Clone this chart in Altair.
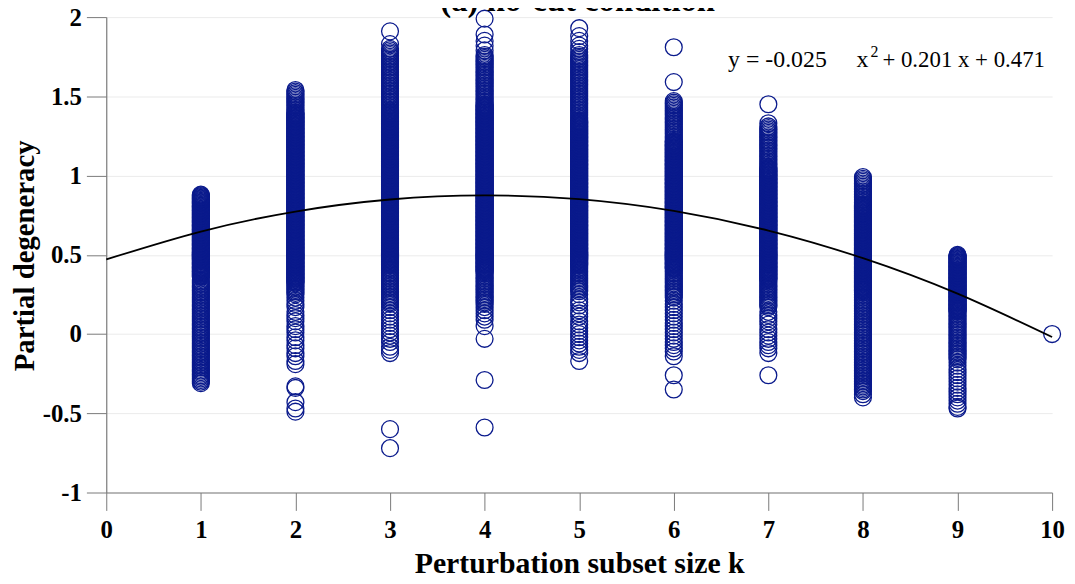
import altair as alt
import pandas as pd

# Partial degeneracy values (in hundredths) read from each column, k = 1..10
k1_vals = [88, 87, 86, 85, 84, 83, 82, 81, 80, 79, 78, 77, 76, 75, 74, 73, 72, 71, 70, 69,
           68, 67, 66, 65, 64, 63, 62, 61, 60, 59, 58, 57, 56, 55, 54, 53, 52, 51, 50, 49,
           48, 47, 46, 45, 44, 43, 42, 41, 40, 39, 38, 37, 36,
           34, 32, 29, 27, 25, 22, 20, 18, 15, 13, 11, 8, 6, 4, 1, -1, -3, -5, -8, -10,
           -12, -14, -16, -18, -20, -22, -24, -26, -28, -30, -31]
k1_mid = [87.5, 86.5, 85.5, 84.5, 83.5, 82.5, 81.5, 80.5, 79.5, 78.5, 77.5, 76.5, 75.5,
          74.5, 73.5, 72.5, 71.5, 70.5, 69.5, 68.5, 67.5, 66.5, 65.5, 64.5, 63.5, 62.5,
          61.5, 60.5, 59.5, 58.5, 57.5, 56.5, 55.5, 54.5, 53.5, 52.5, 51.5, 50.5, 49.5,
          48.5, 47.5, 46.5, 45.5, 44.5, 43.5, 42.5, 41.5, 40.5, 39.5, 38.5, 37.5, 36.5]
k1_extra = [33, 31, 30, 28, 26, 24, 23, 21, 19, 17, 16, 14, 12, 10, 9, 7, 5, 3, 2, 0,
            -2, -4, -6, -7, -9, -11, -13, -15, -17, -19, -21, -23, -25, -27, -29]

k2_vals = [154, 153, 151, 150, 148, 146, 145, 143, 141,
           140, 139, 138, 137, 136, 135, 134, 133, 132, 131, 130, 129, 128, 127, 126, 125,
           124, 123, 122, 121, 120, 119, 118, 117, 116, 115, 114, 113, 112, 111, 110, 109,
           108, 107, 106, 105, 104, 103, 102, 101, 100, 99, 98, 97, 96, 95, 94, 93, 92, 91,
           90, 89, 88, 87, 86, 85, 84, 83, 82, 81, 80, 79, 78, 77, 76, 75, 74, 73, 72, 71,
           70, 69, 68, 67, 66, 65, 64, 63, 62, 61, 60, 59, 58, 57, 56, 55, 54, 53, 52, 51,
           50, 49, 48, 47, 46, 45, 44, 43, 42, 41, 40, 39, 38, 37, 36, 35, 34, 33, 32,
           30, 28, 26, 23, 21, 19, 17, 14, 12, 10, 8, 5, 3, 1, -2, -4, -7, -9, -12, -14,
           -17, -19, -33, -34, -43, -47, -49]
k2_mid = [139.5, 138.5, 137.5, 136.5, 135.5, 134.5, 133.5, 132.5, 131.5, 130.5, 129.5,
          128.5, 127.5, 126.5, 125.5, 124.5, 123.5, 122.5, 121.5, 120.5, 119.5, 118.5,
          117.5, 116.5, 115.5, 114.5, 113.5, 112.5, 111.5, 110.5, 109.5, 108.5, 107.5,
          106.5, 105.5, 104.5, 103.5, 102.5, 101.5, 100.5, 99.5, 98.5, 97.5, 96.5, 95.5,
          94.5, 93.5, 92.5, 91.5, 90.5, 89.5, 88.5, 87.5, 86.5, 85.5, 84.5, 83.5, 82.5,
          81.5, 80.5, 79.5, 78.5, 77.5, 76.5, 75.5, 74.5, 73.5, 72.5, 71.5, 70.5, 69.5,
          68.5, 67.5, 66.5, 65.5, 64.5, 63.5, 62.5, 61.5, 60.5, 59.5, 58.5, 57.5, 56.5,
          55.5, 54.5, 53.5, 52.5, 51.5, 50.5, 49.5, 48.5, 47.5, 46.5, 45.5, 44.5, 43.5,
          42.5, 41.5, 40.5, 39.5, 38.5, 37.5, 36.5, 35.5, 34.5, 33.5, 32.5]
k2_extra = [152, 149, 147, 144, 142, 31, 29, 27, 25]

k3_vals = [191, 183, 180, 178, 176, 174, 172, 170, 168, 166, 164, 162, 160, 158, 156, 154,
           152, 150, 148, 146, 144, 142,
           141, 140, 139, 138, 137, 136, 135, 134, 133, 132, 131, 130, 129, 128, 127, 126,
           125, 124, 123, 122, 121, 120, 119, 118, 117, 116, 115, 114, 113, 112, 111, 110,
           109, 108, 107, 106, 105, 104, 103, 102, 101, 100, 99, 98, 97, 96, 95, 94, 93, 92,
           91, 90, 89, 88, 87, 86, 85, 84, 83, 82, 81, 80, 79, 78, 77, 76, 75, 74, 73, 72,
           71, 70, 69, 68, 67, 66, 65, 64, 63, 62, 61, 60, 59, 58, 57, 56, 55, 54, 53, 52,
           51, 50, 49, 48, 47, 46, 45, 44, 43,
           41, 39, 37, 35, 33, 31, 29, 27, 25, 23, 21, 19, 17, 15, 13, 11, 9, 7, 5, 3, 1,
           -1, -3, -5, -8, -10, -12, -60, -72]
k3_mid = [140.5, 139.5, 138.5, 137.5, 136.5, 135.5, 134.5, 133.5, 132.5, 131.5, 130.5,
          129.5, 128.5, 127.5, 126.5, 125.5, 124.5, 123.5, 122.5, 121.5, 120.5, 119.5,
          118.5, 117.5, 116.5, 115.5, 114.5, 113.5, 112.5, 111.5, 110.5, 109.5, 108.5,
          107.5, 106.5, 105.5, 104.5, 103.5, 102.5, 101.5, 100.5, 99.5, 98.5, 97.5, 96.5,
          95.5, 94.5, 93.5, 92.5, 91.5, 90.5, 89.5, 88.5, 87.5, 86.5, 85.5, 84.5, 83.5,
          82.5, 81.5, 80.5, 79.5, 78.5, 77.5, 76.5, 75.5, 74.5, 73.5, 72.5, 71.5, 70.5,
          69.5, 68.5, 67.5, 66.5, 65.5, 64.5, 63.5, 62.5, 61.5, 60.5, 59.5, 58.5, 57.5,
          56.5, 55.5, 54.5, 53.5, 52.5, 51.5, 50.5, 49.5, 48.5, 47.5, 46.5, 45.5, 44.5,
          43.5]
k3_extra = [179, 177, 175, 173, 171, 169, 167, 165, 163, 161, 159, 157, 155, 153, 151,
            149, 147, 145, 143, 42, 40, 38, 36, 34, 32, 30, 28, 26, 24, 22, 20]

k4_vals = [199, 189, 185, 182, 179, 176, 174, 172, 170, 168, 166, 164, 162, 160, 158, 156,
           154, 152, 150, 148, 146,
           145, 144, 143, 142, 141, 140, 139, 138, 137, 136, 135, 134, 133, 132, 131, 130,
           129, 128, 127, 126, 125, 124, 123, 122, 121, 120, 119, 118, 117, 116, 115, 114,
           113, 112, 111, 110, 109, 108, 107, 106, 105, 104, 103, 102, 101, 100, 99, 98, 97,
           96, 95, 94, 93, 92, 91, 90, 89, 88, 87, 86, 85, 84, 83, 82, 81, 80, 79, 78, 77,
           76, 75, 74, 73, 72, 71, 70, 69, 68, 67, 66, 65, 64, 63, 62, 61, 60, 59, 58, 57,
           56, 55, 54, 53, 52, 51, 50, 49, 48, 47, 46, 45, 44, 43, 42, 41, 40, 39,
           37, 35, 33, 31, 29, 27, 25, 23, 21, 19, 17, 15, 13, 11, 9, 5, -3, -29, -59]
k4_mid = [144.5, 143.5, 142.5, 141.5, 140.5, 139.5, 138.5, 137.5, 136.5, 135.5, 134.5,
          133.5, 132.5, 131.5, 130.5, 129.5, 128.5, 127.5, 126.5, 125.5, 124.5, 123.5,
          122.5, 121.5, 120.5, 119.5, 118.5, 117.5, 116.5, 115.5, 114.5, 113.5, 112.5,
          111.5, 110.5, 109.5, 108.5, 107.5, 106.5, 105.5, 104.5, 103.5, 102.5, 101.5,
          100.5, 99.5, 98.5, 97.5, 96.5, 95.5, 94.5, 93.5, 92.5, 91.5, 90.5, 89.5, 88.5,
          87.5, 86.5, 85.5, 84.5, 83.5, 82.5, 81.5, 80.5, 79.5, 78.5, 77.5, 76.5, 75.5,
          74.5, 73.5, 72.5, 71.5, 70.5, 69.5, 68.5, 67.5, 66.5, 65.5, 64.5, 63.5, 62.5,
          61.5, 60.5, 59.5, 58.5, 57.5, 56.5, 55.5, 54.5, 53.5, 52.5, 51.5, 50.5, 49.5,
          48.5, 47.5, 46.5, 45.5, 44.5, 43.5, 42.5, 41.5, 40.5, 39.5]
k4_extra = [175, 173, 171, 169, 167, 165, 163, 161, 159, 157, 155, 153, 151, 149, 147,
            38, 36, 34, 32, 30, 28, 26, 24, 22, 20]

k5_vals = [193, 188, 185, 182, 180, 178, 176, 174, 172, 170, 168, 166, 164, 162, 160, 158,
           156, 154, 152, 150, 148, 146, 144, 142, 140, 138, 136,
           135, 134, 133, 132, 131, 130, 129, 128, 127, 126, 125, 124, 123, 122, 121, 120,
           119, 118, 117, 116, 115, 114, 113, 112, 111, 110, 109, 108, 107, 106, 105, 104,
           103, 102, 101, 100, 99, 98, 97, 96, 95, 94, 93, 92, 91, 90, 89, 88, 87, 86, 85,
           84, 83, 82, 81, 80, 79, 78, 77, 76, 75, 74, 73, 72, 71, 70, 69, 68, 67, 66, 65,
           64, 63, 62, 61, 60, 59, 58, 57, 56, 55, 54, 53, 52, 51, 50, 49, 48, 47, 46, 45,
           44, 43,
           41, 39, 37, 35, 33, 31, 29, 27, 25, 22, 20, 18, 15, 13, 11, 8, 6, 4, 2, 0, -2,
           -4, -6, -8, -10, -12, -17]
k5_mid = [134.5, 133.5, 132.5, 131.5, 130.5, 129.5, 128.5, 127.5, 126.5, 125.5, 124.5,
          123.5, 122.5, 121.5, 120.5, 119.5, 118.5, 117.5, 116.5, 115.5, 114.5, 113.5,
          112.5, 111.5, 110.5, 109.5, 108.5, 107.5, 106.5, 105.5, 104.5, 103.5, 102.5,
          101.5, 100.5, 99.5, 98.5, 97.5, 96.5, 95.5, 94.5, 93.5, 92.5, 91.5, 90.5, 89.5,
          88.5, 87.5, 86.5, 85.5, 84.5, 83.5, 82.5, 81.5, 80.5, 79.5, 78.5, 77.5, 76.5,
          75.5, 74.5, 73.5, 72.5, 71.5, 70.5, 69.5, 68.5, 67.5, 66.5, 65.5, 64.5, 63.5,
          62.5, 61.5, 60.5, 59.5, 58.5, 57.5, 56.5, 55.5, 54.5, 53.5, 52.5, 51.5, 50.5,
          49.5, 48.5, 47.5, 46.5, 45.5, 44.5, 43.5]
k5_extra = [175, 173, 171, 169, 167, 165, 163, 161, 159, 157, 155, 153, 151, 149, 147,
            145, 143, 141, 139, 137, 42, 40, 38, 36, 34, 32, 30, 28]

k6_vals = [181, 159, 147, 145, 143, 141, 139, 137, 135, 133, 131, 129, 127, 125, 123,
           122, 121, 120, 119, 118, 117, 116, 115, 114, 113, 112, 111, 110, 109, 108, 107,
           106, 105, 104, 103, 102, 101, 100, 99, 98, 97, 96, 95, 94, 93, 92, 91, 90, 89,
           88, 87, 86, 85, 84, 83, 82, 81, 80, 79, 78, 77, 76, 75, 74, 73, 72, 71, 70, 69,
           68, 67, 66, 65, 64, 63, 62, 61, 60, 59, 58, 57, 56, 55, 54, 53, 52, 51, 50, 49,
           48, 47, 46, 45, 44, 43, 42, 41,
           39, 37, 35, 33, 31, 29, 27, 25, 23, 21, 19, 17, 15, 13, 11, 9, 7, 5, 3, 1, -1,
           -3, -5, -7, -9, -11, -14, -26, -35]
k6_mid = [121.5, 120.5, 119.5, 118.5, 117.5, 116.5, 115.5, 114.5, 113.5, 112.5, 111.5,
          110.5, 109.5, 108.5, 107.5, 106.5, 105.5, 104.5, 103.5, 102.5, 101.5, 100.5,
          99.5, 98.5, 97.5, 96.5, 95.5, 94.5, 93.5, 92.5, 91.5, 90.5, 89.5, 88.5, 87.5,
          86.5, 85.5, 84.5, 83.5, 82.5, 81.5, 80.5, 79.5, 78.5, 77.5, 76.5, 75.5, 74.5,
          73.5, 72.5, 71.5, 70.5, 69.5, 68.5, 67.5, 66.5, 65.5, 64.5, 63.5, 62.5, 61.5,
          60.5, 59.5, 58.5, 57.5, 56.5, 55.5, 54.5, 53.5, 52.5, 51.5, 50.5, 49.5, 48.5,
          47.5, 46.5, 45.5, 44.5, 43.5, 42.5, 41.5]
k6_extra = [146, 144, 142, 140, 138, 136, 134, 132, 130, 128, 126, 124,
            40, 38, 36, 34, 32, 30, 28, 26, 24]

k7_vals = [145, 133, 131, 128, 126, 124, 122, 120, 118, 116, 114, 112, 110, 108, 106,
           105, 104, 103, 102, 101, 100, 99, 98, 97, 96, 95, 94, 93, 92, 91, 90, 89, 88,
           87, 86, 85, 84, 83, 82, 81, 80, 79, 78, 77, 76, 75, 74, 73, 72, 71, 70, 69, 68,
           67, 66, 65, 64, 63, 62, 61, 60, 59, 58, 57, 56, 55, 54, 53, 52, 51, 50, 49, 48,
           47, 46, 45, 44, 43, 42, 41, 40, 39, 38, 37, 36, 35, 34,
           32, 30, 28, 25, 23, 21, 19, 17, 14, 12, 10, 8, 6, 3, 1, -1, -3, -5, -7, -9, -12,
           -26]
k7_mid = [104.5, 103.5, 102.5, 101.5, 100.5, 99.5, 98.5, 97.5, 96.5, 95.5, 94.5, 93.5,
          92.5, 91.5, 90.5, 89.5, 88.5, 87.5, 86.5, 85.5, 84.5, 83.5, 82.5, 81.5, 80.5,
          79.5, 78.5, 77.5, 76.5, 75.5, 74.5, 73.5, 72.5, 71.5, 70.5, 69.5, 68.5, 67.5,
          66.5, 65.5, 64.5, 63.5, 62.5, 61.5, 60.5, 59.5, 58.5, 57.5, 56.5, 55.5, 54.5,
          53.5, 52.5, 51.5, 50.5, 49.5, 48.5, 47.5, 46.5, 45.5, 44.5, 43.5, 42.5, 41.5,
          40.5, 39.5, 38.5, 37.5, 36.5, 35.5, 34.5]
k7_extra = [130, 129, 127, 125, 123, 121, 119, 117, 115, 113, 111, 109, 107,
            33, 31, 29, 27, 26, 24, 22, 20, 18]

k8_vals = [99, 97, 95, 93, 91, 89, 87, 85, 83,
           82, 81, 80, 79, 78, 77, 76, 75, 74, 73, 72, 71, 70, 69, 68, 67, 66, 65, 64, 63,
           62, 61, 60, 59, 58, 57, 56, 55, 54, 53, 52, 51, 50, 49, 48, 47, 46, 45, 44, 43,
           42, 41, 40, 39, 38, 37, 36, 35, 34, 33, 32, 31, 30, 29, 28, 27,
           25, 23, 21, 19, 17, 15, 13, 11, 9, 7, 5, 3, 1, -1, -3, -5, -7, -9, -11, -13,
           -15, -17, -19, -21, -23, -25, -27, -29, -31, -33, -35, -38, -40]
k8_mid = [81.5, 80.5, 79.5, 78.5, 77.5, 76.5, 75.5, 74.5, 73.5, 72.5, 71.5, 70.5, 69.5,
          68.5, 67.5, 66.5, 65.5, 64.5, 63.5, 62.5, 61.5, 60.5, 59.5, 58.5, 57.5, 56.5,
          55.5, 54.5, 53.5, 52.5, 51.5, 50.5, 49.5, 48.5, 47.5, 46.5, 45.5, 44.5, 43.5,
          42.5, 41.5, 40.5, 39.5, 38.5, 37.5, 36.5, 35.5, 34.5, 33.5, 32.5, 31.5, 30.5,
          29.5, 28.5, 27.5]
k8_extra = [98, 96, 94, 92, 90, 88, 86, 84,
            26, 24, 22, 20, 18, 16, 14, 12, 10, 8, 6, 4, 2, 0, -2, -4, -6, -8, -10, -12,
            -14, -16, -18, -20, -22, -24, -26, -28, -30, -32, -34, -36]

k9_vals = [50, 49, 48, 47, 46, 45, 44, 43, 42, 41, 40, 39, 38, 37, 36, 35, 34, 33, 32,
           31, 30, 29, 28, 27, 26, 25, 24, 23, 22, 21, 20, 19, 18, 17, 16, 15, 14,
           12, 10, 8, 6, 4, 2, 0, -2, -4, -6, -8, -10, -12, -14, -16, -18, -20, -22, -24,
           -26, -28, -30, -32, -34, -36, -38, -40, -42, -44, -46, -47]
k9_mid = [49.5, 48.5, 47.5, 46.5, 45.5, 44.5, 43.5, 42.5, 41.5, 40.5, 39.5, 38.5, 37.5,
          36.5, 35.5, 34.5, 33.5, 32.5, 31.5, 30.5, 29.5, 28.5, 27.5, 26.5, 25.5, 24.5,
          23.5, 22.5, 21.5, 20.5, 19.5, 18.5, 17.5, 16.5, 15.5, 14.5]
k9_extra = [13, 11, 9, 7, 5, 3, 1, -1, -3, -5, -7, -9, -11, -13, -15]

k10_vals = [0]
k10_mid = []
k10_extra = []

columns = {1: k1_vals + k1_mid + k1_extra, 2: k2_vals + k2_mid + k2_extra,
           3: k3_vals + k3_mid + k3_extra, 4: k4_vals + k4_mid + k4_extra,
           5: k5_vals + k5_mid + k5_extra, 6: k6_vals + k6_mid + k6_extra,
           7: k7_vals + k7_mid + k7_extra, 8: k8_vals + k8_mid + k8_extra,
           9: k9_vals + k9_mid + k9_extra, 10: k10_vals + k10_mid + k10_extra}

# Fitted curve as drawn: y = -0.025 x^2 + 0.201 x + 0.471 (values read at integer k)
fit_k = [0, 1, 2, 3, 4, 5, 6, 7, 8, 9, 10]
fit_y = [0.471, 0.647, 0.773, 0.849, 0.875, 0.851, 0.777, 0.653, 0.479, 0.255, -0.019]

x_ticks = [0, 1, 2, 3, 4, 5, 6, 7, 8, 9, 10]
y_ticks = [-1, -0.5, 0, 0.5, 1, 1.5, 2]

rows = []
for k, vals in columns.items():
    for v in vals:
        rows.append({"k": k, "pd": v / 100.0})
df_pts = pd.DataFrame(rows)
df_fit = pd.DataFrame({"k": fit_k, "pd": fit_y})

SERIF = "Liberation Serif"

x_enc = alt.X("k:Q", scale=alt.Scale(domain=[0, 10], nice=False, zero=False),
              axis=alt.Axis(values=x_ticks, title="Perturbation subset size k",
                            grid=False, tickSize=18, labelPadding=7,
                            labelFlush=False, labelOverlap=False,
                            labelExpr="'' + datum.value",
                            titleFontSize=30, titleY=81, titleBaseline="alphabetic"))
y_enc = alt.Y("pd:Q", scale=alt.Scale(domain=[-1, 2], nice=False, zero=False),
              axis=alt.Axis(values=y_ticks, title="Partial degeneracy",
                            grid=True, tickSize=20, labelPadding=5,
                            labelOverlap=False, labelExpr="'' + datum.value",
                            titleFontSize=29, titleX=-73, titleY=240, titleAngle=270,
                            titleBaseline="alphabetic", titleAlign="center"))

points = alt.Chart(df_pts).mark_point(
    shape="circle", filled=False, size=289, strokeWidth=1.3, color="#0a1a8c", opacity=1
).encode(x=x_enc, y=y_enc)

curve = alt.Chart(df_fit).mark_line(
    color="black", strokeWidth=1.8, interpolate="natural"
).encode(x="k:Q", y="pd:Q")


def label(text, px, py, size, align="left", weight="normal"):
    return alt.Chart(pd.DataFrame({"t": [text]})).mark_text(
        font=SERIF, fontSize=size, fontWeight=weight, align=align,
        baseline="alphabetic", color="black"
    ).encode(x=alt.value(px), y=alt.value(py), text="t:N")


eq1 = label("y = -0.025", 726, 50, 24, align="right")
eq2 = label("x", 768, 50, 24, align="right")
eq3 = label("2", 770, 40, 16)
eq4 = label("+ 0.201 x + 0.471", 782, 50, 23)
title = label("(a) no-cut condition", 475, -6, 33, align="center", weight="bold")

chart = alt.layer(points, curve, eq1, eq2, eq3, eq4, title).properties(
    width=953, height=479,
    autosize=alt.AutoSizeParams(type="none"),
    padding={"left": 99, "top": 7, "right": 15, "bottom": 90},
).configure_view(stroke=None).configure_axis(
    domainColor="#7a7a7a", domainWidth=1.2, tickColor="#7a7a7a", tickWidth=1,
    gridColor="#ebebeb", gridWidth=1,
    labelFont=SERIF, labelFontWeight="bold", labelFontSize=25, labelColor="black",
    titleFont=SERIF, titleFontWeight="bold", titleColor="black",
)

chart.save("out.html", embed_options={"renderer": "svg", "actions": False})
